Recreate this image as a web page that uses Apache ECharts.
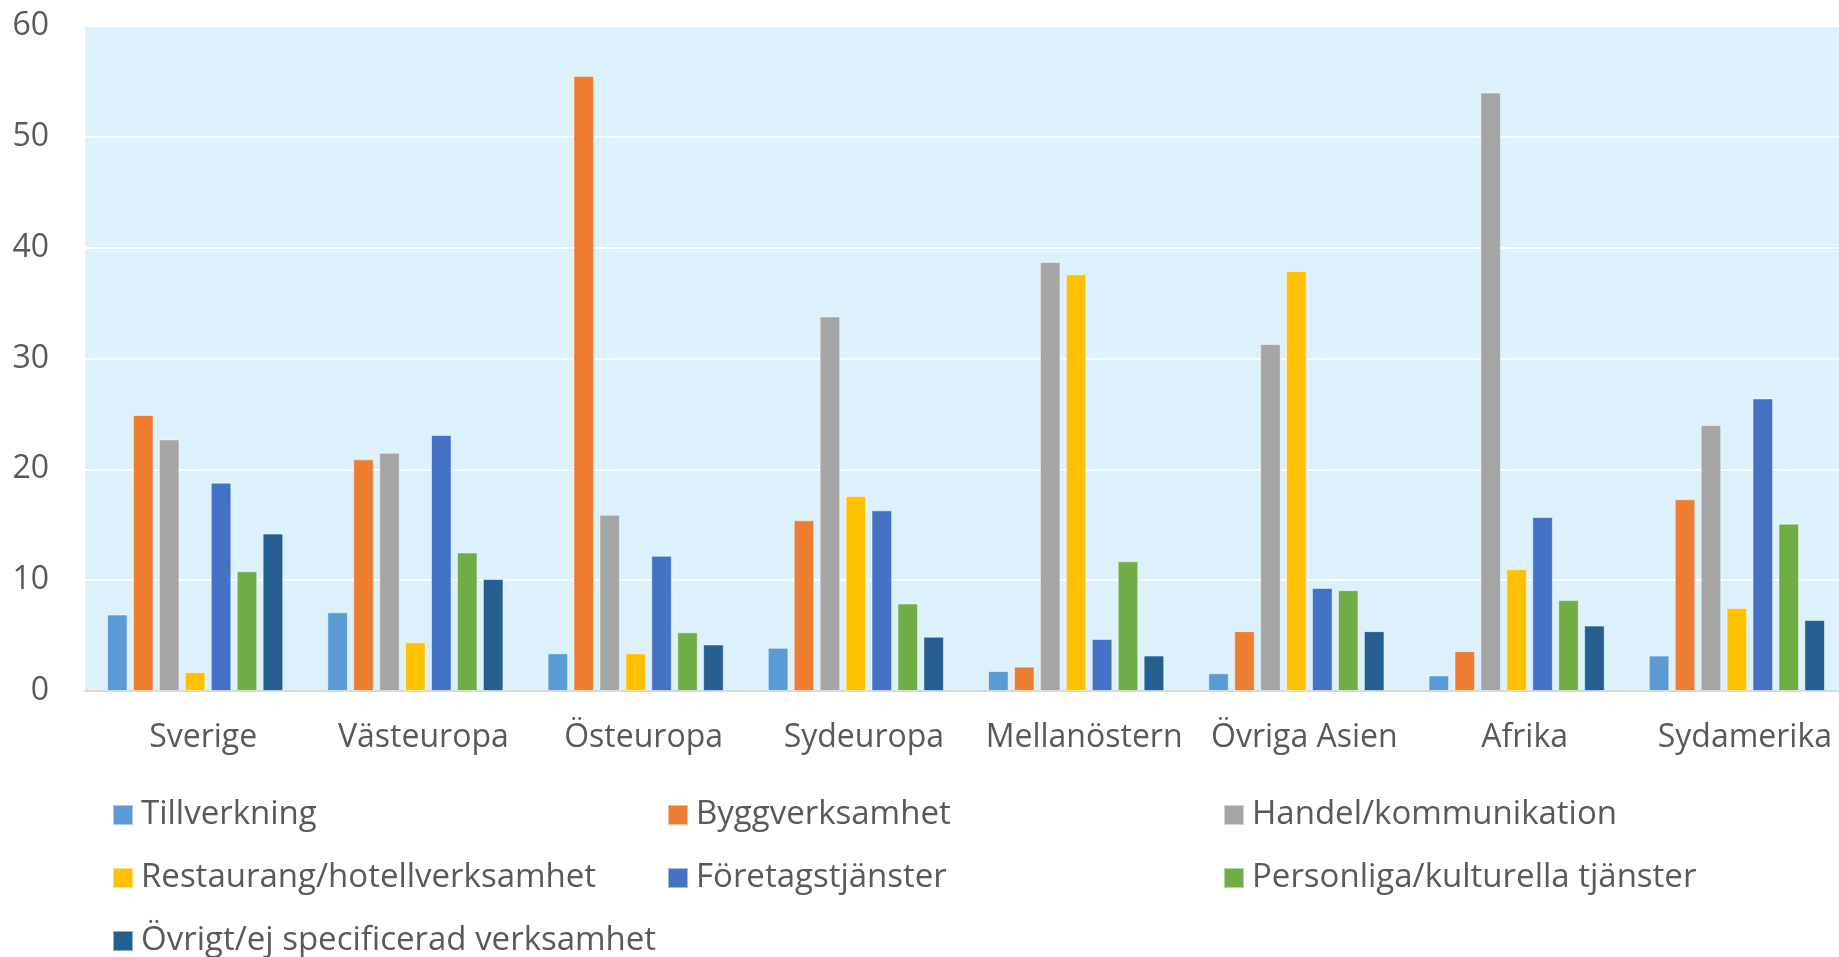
<!DOCTYPE html>
<html>
<head>
<meta charset="utf-8">
<script src="https://cdn.jsdelivr.net/npm/echarts@6/dist/echarts.min.js"></script>
<style>
  html, body { margin: 0; padding: 0; background: #fff; overflow: hidden; }
  #main { width: 1839px; height: 957px; }
</style>
</head>
<body>
<div id="main"></div>
<script>
var regions = ['Sverige', 'Västeuropa', 'Östeuropa', 'Sydeuropa', 'Mellanöstern', 'Övriga Asien', 'Afrika', 'Sydamerika'];
var seriesNames = ['Tillverkning', 'Byggverksamhet', 'Handel/kommunikation', 'Restaurang/hotellverksamhet',
  'Företagstjänster', 'Personliga/kulturella tjänster', 'Övrigt/ej specificerad verksamhet'];
var colors = ['#5b9bd5', '#ed7d31', '#a5a5a5', '#ffc000', '#4472c4', '#70ad47', '#255e91'];

var tillverkning = [6.9, 7.1, 3.4, 3.9, 1.8, 1.6, 1.4, 3.2];
var bygg         = [24.9, 20.9, 55.5, 15.4, 2.2, 5.4, 3.6, 17.3];
var handel       = [22.7, 21.5, 15.9, 33.8, 38.7, 31.3, 54.0, 24.0];
var restaurang   = [1.7, 4.4, 3.4, 17.6, 37.6, 37.9, 11.0, 7.5];
var foretag      = [18.8, 23.1, 12.2, 16.3, 4.7, 9.3, 15.7, 26.4];
var personliga   = [10.8, 12.5, 5.3, 7.9, 11.7, 9.1, 8.2, 15.1];
var ovrigt       = [14.2, 10.1, 4.2, 4.9, 3.2, 5.4, 5.9, 6.4];
var allValues = [tillverkning, bygg, handel, restaurang, foretag, personliga, ovrigt];

var txtColor = '#595959';
var fontFam = '"Open Sans", "Noto Sans", sans-serif';

var myChart = echarts.init(document.getElementById('main'));

var series = [];
for (var i = 0; i < seriesNames.length; i++) {
  series.push({
    name: seriesNames[i],
    type: 'bar',
    barGap: '26%',
    barCategoryGap: '20%',
    itemStyle: { color: colors[i], borderColor: 'rgba(255,255,255,0.5)', borderWidth: 1 },
    data: allValues[i]
  });
}

// legend: 3 columns, one legend per item
var legendCols = [112, 667, 1223];
var legendRows = [796, 859, 922];
var legends = [];
for (var j = 0; j < seriesNames.length; j++) {
  legends.push({
    data: [seriesNames[j]],
    left: legendCols[j % 3],
    top: legendRows[Math.floor(j / 3)],
    padding: 0,
    icon: 'rect',
    itemWidth: 20,
    itemHeight: 20,
    selectedMode: false,
    textStyle: { color: txtColor, fontSize: 33, fontFamily: fontFam, lineHeight: 38, padding: [0, 0, 0, 3] }
  });
}

var option = {
  animation: false,
  backgroundColor: '#ffffff',
  color: colors,
  legend: legends,
  grid: {
    left: 85,
    width: 1762,   // plot runs a bit past the right edge in the original
    top: 26,
    bottom: 266,
    outerBoundsMode: 'none',
    show: true,
    backgroundColor: '#ddf1fc',
    borderWidth: 0
  },
  xAxis: {
    type: 'category',
    data: regions,
    axisTick: { show: false },
    axisLine: { show: true, lineStyle: { color: '#d9d9d9', width: 2 } },
    axisLabel: { color: txtColor, fontSize: 32, fontFamily: fontFam, margin: 31, interval: 0, padding: [0, 0, 0, 16] }
  },
  yAxis: {
    type: 'value',
    min: 0,
    max: 60,
    interval: 10,
    axisLine: { show: false },
    axisTick: { show: false },
    splitLine: { show: true, lineStyle: { color: '#ffffff', width: 2 } },
    axisLabel: { color: txtColor, fontSize: 32, fontFamily: fontFam, margin: 36 }
  },
  series: series
};

myChart.setOption(option);
</script>
</body>
</html>
